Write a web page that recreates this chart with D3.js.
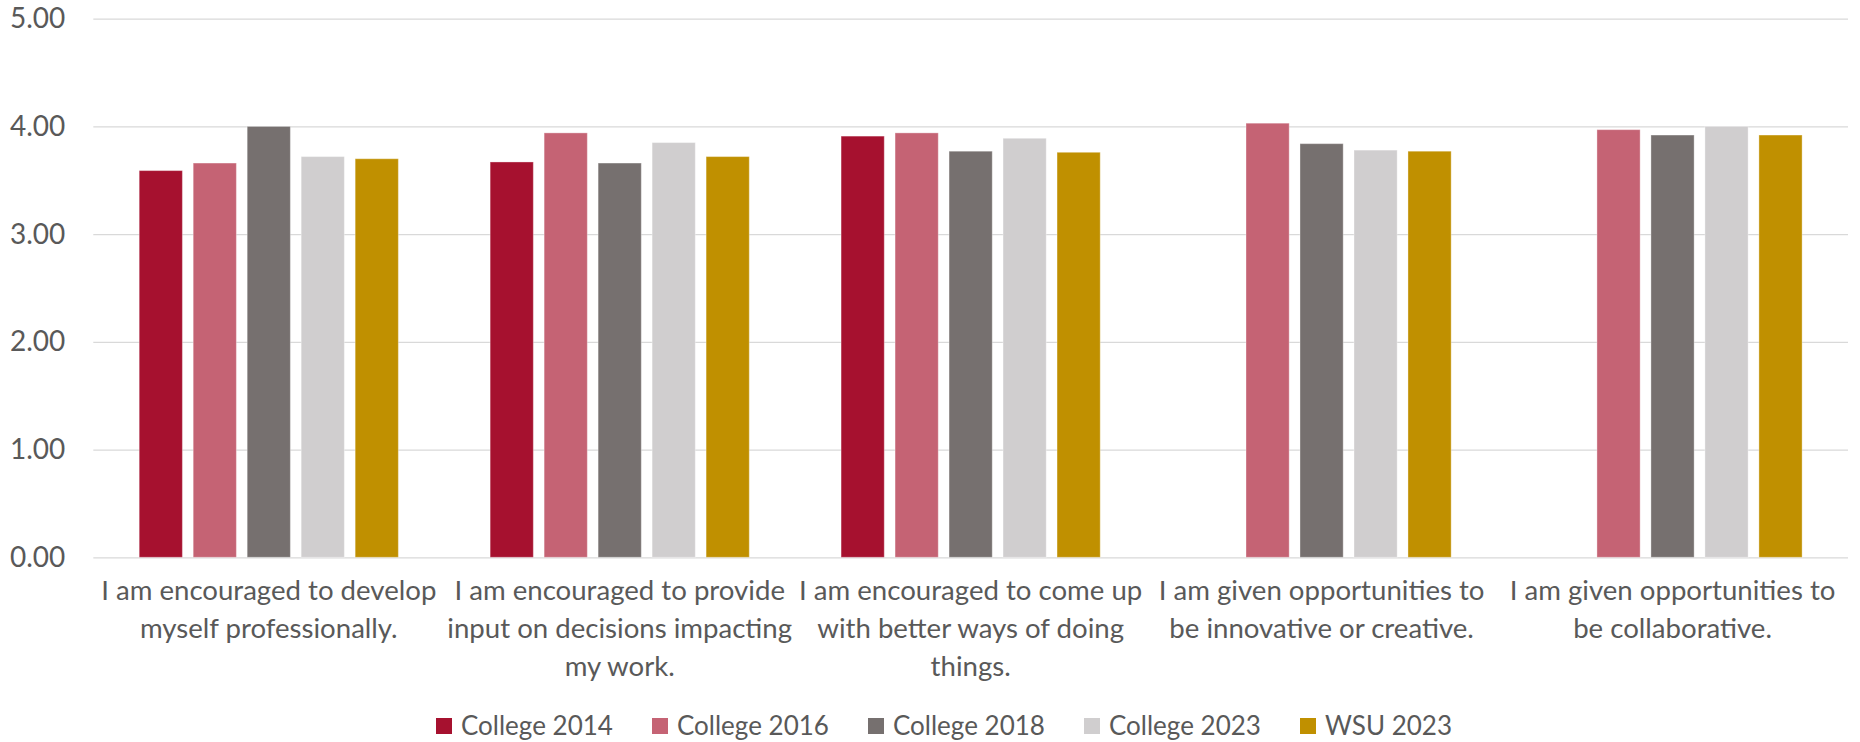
<!DOCTYPE html>
<html>
<head>
<meta charset="utf-8">
<script src="https://cdn.jsdelivr.net/npm/d3@7"></script>
<style>
  body { margin: 0; background: #fff; }
  text { font-family: Lato, "Open Sans", sans-serif; fill: #595959; }
</style>
</head>
<body>
<div id="chart"></div>
<script>
// chart data
var categories = [
  "I am encouraged to develop\nmyself professionally.",
  "I am encouraged to provide\ninput on decisions impacting\nmy work.",
  "I am encouraged to come up\nwith better ways of doing\nthings.",
  "I am given opportunities to\nbe innovative or creative.",
  "I am given opportunities to\nbe collaborative."
];
var seriesNames = ["College 2014", "College 2016", "College 2018", "College 2023", "WSU 2023"];
var seriesColors = ["#A6112F", "#C56374", "#76706F", "#D0CECF", "#C09000"];
var college2014 = [3.59, 3.67, 3.91, null, null];
var college2016 = [3.66, 3.94, 3.94, 4.03, 3.97];
var college2018 = [4.00, 3.66, 3.77, 3.84, 3.92];
var college2023 = [3.72, 3.85, 3.89, 3.78, 4.00];
var wsu2023 = [3.70, 3.72, 3.76, 3.77, 3.92];
var yTicks = [0, 1, 2, 3, 4, 5];

var seriesValues = [college2014, college2016, college2018, college2023, wsu2023];

var W = 1860, H = 742;
var margin = {top: 18.7, right: 12, bottom: 742 - 557.3, left: 93.3},
    width = W - margin.left - margin.right,
    height = H - margin.top - margin.bottom;

var svg = d3.select("#chart").append("svg")
    .attr("width", W)
    .attr("height", H);

var g = svg.append("g")
    .attr("transform", "translate(" + margin.left + "," + margin.top + ")");

var x0 = d3.scaleBand().domain(d3.range(categories.length)).range([0, width]).padding(0);
var x1 = d3.scaleBand().domain(d3.range(seriesNames.length)).range([0, x0.bandwidth()])
    .paddingInner(0.2).paddingOuter(0.85);
var y = d3.scaleLinear().domain([0, 5]).range([height, 0]);

// gridlines + y labels
var yAxis = g.append("g")
    .call(d3.axisLeft(y).tickValues(yTicks).tickFormat(d3.format(".2f"))
        .tickSize(-width).tickPadding(28));
yAxis.select(".domain").remove();
yAxis.selectAll("line").attr("stroke", "#D9D9D9").attr("stroke-width", 1.3);
yAxis.selectAll("text").style("font-size", "28px").attr("fill", "#595959");

// bars
var groups = g.selectAll(".grp")
    .data(categories)
    .enter().append("g")
    .attr("class", "grp")
    .attr("transform", function(d, i) { return "translate(" + x0(i) + ",0)"; });

groups.selectAll("rect")
    .data(function(d, i) {
        return seriesValues.map(function(vals, s) { return {s: s, v: vals[i]}; })
            .filter(function(o) { return o.v != null; });
    })
    .enter().append("rect")
    .attr("x", function(d) { return x1(d.s); })
    .attr("y", function(d) { return y(d.v); })
    .attr("width", x1.bandwidth())
    .attr("height", function(d) { return height - y(d.v); })
    .attr("fill", function(d) { return seriesColors[d.s]; })
    .attr("stroke", "#fff")
    .attr("stroke-opacity", 0.35)
    .attr("stroke-width", 1);

// x axis labels
var xAxis = g.append("g")
    .attr("transform", "translate(0," + height + ")")
    .call(d3.axisBottom(x0).tickSize(0).tickFormat(function(i) { return ""; }));
xAxis.select(".domain").remove();
xAxis.selectAll(".tick text").each(function(i) {
    var t = d3.select(this)
        .attr("y", 0)
        .attr("dy", null)
        .style("font-size", "27.6px")
        .attr("fill", "#595959");
    categories[i].split("\n").forEach(function(line, k) {
        t.append("tspan")
            .attr("x", 0)
            .attr("y", 43 + k * 38)
            .text(line);
    });
});

// legend
var legend = svg.append("g").attr("transform", "translate(436,718)");
var item = legend.selectAll(".item")
    .data(seriesNames)
    .enter().append("g")
    .attr("class", "item")
    .attr("transform", function(d, i) { return "translate(" + (i * 216) + ",0)"; });
item.append("rect")
    .attr("width", 16)
    .attr("height", 16)
    .attr("fill", function(d, i) { return seriesColors[i]; });
item.append("text")
    .attr("x", 25)
    .attr("y", 8)
    .attr("dy", "0.35em")
    .style("font-size", "26px")
    .text(function(d) { return d; });
</script>
</body>
</html>
